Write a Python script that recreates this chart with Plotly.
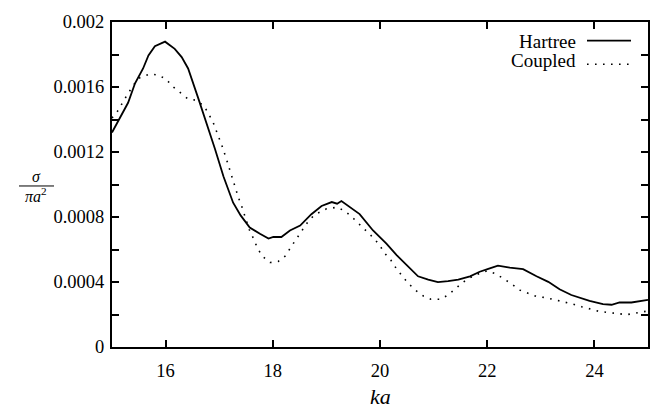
import plotly.graph_objects as go

# ---- data ----
hartree_x = [15.00, 15.21, 15.30, 15.43, 15.58, 15.68, 15.80, 15.99, 16.17, 16.30, 16.42, 16.61,
             16.77, 16.92, 17.08, 17.26, 17.40, 17.57, 17.76, 17.92, 18.01, 18.16, 18.32, 18.51,
             18.72, 18.91, 19.10, 19.20, 19.28, 19.41, 19.62, 19.87, 20.12, 20.31, 20.50, 20.71,
             20.90, 21.08, 21.27, 21.46, 21.68, 21.86, 22.02, 22.20, 22.42, 22.67, 22.92, 23.14,
             23.35, 23.57, 23.91, 24.16, 24.32, 24.47, 24.69, 24.91, 25.00]
hartree_y = [0.001320, 0.001452, 0.001503, 0.001623, 0.001714, 0.001794, 0.001851, 0.001879,
             0.001835, 0.001784, 0.001714, 0.001530, 0.001372, 0.001220, 0.001049, 0.000888,
             0.000810, 0.000735, 0.000697, 0.000667, 0.000677, 0.000677, 0.000717, 0.000747,
             0.000817, 0.000868, 0.000892, 0.000882, 0.000898, 0.000866, 0.000818, 0.000717,
             0.000636, 0.000566, 0.000501, 0.000435, 0.000415, 0.000399, 0.000405, 0.000415,
             0.000435, 0.000463, 0.000481, 0.000501, 0.000489, 0.000479, 0.000435, 0.000401,
             0.000355, 0.000320, 0.000284, 0.000264, 0.000260, 0.000274, 0.000274, 0.000288,
             0.000290]

coupled_x = [15.00, 15.12, 15.21, 15.30, 15.40, 15.52, 15.71, 15.86, 16.01, 16.13, 16.27, 16.41,
             16.58, 16.72, 16.88, 16.96, 17.06, 17.15, 17.26, 17.36, 17.42, 17.56, 17.64, 17.71,
             17.80, 17.95, 18.10, 18.24, 18.34, 18.44, 18.54, 18.64, 18.77, 19.00, 19.20, 19.34,
             19.47, 19.61, 19.74, 19.86, 19.98, 20.08, 20.20, 20.30, 20.41, 20.53, 20.66, 20.81,
             20.95, 21.13, 21.27, 21.41, 21.55, 21.75, 22.00, 22.16, 22.32, 22.47, 22.61, 22.76,
             22.93, 23.09, 23.26, 23.43, 23.60, 23.76, 23.93, 24.09, 24.25, 24.42, 24.60, 24.75,
             24.91, 25.00]
coupled_y = [0.001410, 0.001458, 0.001512, 0.001563, 0.001613, 0.001657, 0.001680, 0.001674,
             0.001648, 0.001603, 0.001563, 0.001529, 0.001517, 0.001482, 0.001388, 0.001321,
             0.001231, 0.001140, 0.001019, 0.000918, 0.000866, 0.000723, 0.000667, 0.000612,
             0.000560, 0.000520, 0.000526, 0.000562, 0.000616, 0.000667, 0.000717, 0.000763,
             0.000812, 0.000850, 0.000860, 0.000838, 0.000802, 0.000757, 0.000721, 0.000677,
             0.000633, 0.000580, 0.000536, 0.000485, 0.000439, 0.000391, 0.000350, 0.000314,
             0.000294, 0.000294, 0.000320, 0.000358, 0.000399, 0.000440, 0.000469, 0.000451,
             0.000419, 0.000385, 0.000350, 0.000330, 0.000310, 0.000304, 0.000292, 0.000280,
             0.000264, 0.000248, 0.000234, 0.000219, 0.000213, 0.000207, 0.000199, 0.000207,
             0.000219, 0.000222]

x_tickvals = [16, 18, 20, 22, 24]
x_ticktext = ["16", "18", "20", "22", "24"]
y_tickvals = [0, 0.0004, 0.0008, 0.0012, 0.0016, 0.002]
y_ticktext = ["0", "0.0004", "0.0008", "0.0012", "0.0016", "0.002"]
series_names = ["Hartree", "Coupled"]

# ---- layout geometry (pixels) ----
W, H = 664, 410
L, R, T, B = 112, 16, 16, 63
PW, PH = W - L - R, H - T - B
FONT = "Liberation Serif"
TICK_SIZE = 18.5
LEG_SIZE = 19


def px(xp):
    return (xp - L) / PW


def py(yp):
    return (H - B - yp) / PH


fig = go.Figure()
fig.add_trace(go.Scatter(x=hartree_x, y=hartree_y, mode="lines", name=series_names[0],
                         line=dict(color="black", width=1.8), showlegend=False))
fig.add_trace(go.Scatter(x=coupled_x, y=coupled_y, mode="lines", name=series_names[1],
                         line=dict(color="black", width=1.6, dash="1.6px,6.4px"), showlegend=False))

axis_common = dict(showline=True, linecolor="black", linewidth=2, mirror="ticks",
                   ticks="inside", ticklen=7, tickwidth=1.6, tickcolor="black",
                   showgrid=False, zeroline=False,
                   tickfont=dict(family=FONT, size=TICK_SIZE, color="black"))

fig.update_xaxes(range=[15, 25], tickvals=x_tickvals, ticktext=x_ticktext,
                 ticklabelstandoff=6, **axis_common)
fig.update_yaxes(range=[0, 0.002], tickvals=y_tickvals, ticktext=y_ticktext,
                 ticklabelstandoff=2,
                 minor=dict(dtick=0.0002, ticks="inside", ticklen=7, tickwidth=1.6, tickcolor="black"),
                 **axis_common)


def ann(text, xp, yp, size, xanchor="center"):
    return dict(text=text, x=px(xp), y=py(yp), xref="paper", yref="paper",
                xanchor=xanchor, yanchor="middle", showarrow=False,
                font=dict(family=FONT, size=size, color="black"))


annotations = [
    ann("<i>ka</i>", 380, 397, 22),
    ann("<i>σ</i>", 36, 173, 16),
    ann("<i>πa</i><sup>2</sup>", 36, 192, 16),
    ann(series_names[0], 578, 36, LEG_SIZE, "right"),
    ann(series_names[1], 578, 55, LEG_SIZE, "right"),
]

shapes = [
    dict(type="line", xref="paper", yref="paper", x0=px(19), x1=px(54), y0=py(183), y1=py(183),
         line=dict(color="black", width=1)),
    dict(type="line", xref="paper", yref="paper", x0=px(587), x1=px(631), y0=py(35), y1=py(35),
         line=dict(color="black", width=1.8)),
    dict(type="line", xref="paper", yref="paper", x0=px(587), x1=px(631), y0=py(59), y1=py(59),
         line=dict(color="black", width=1.6, dash="1.6px,6.4px")),
]

fig.update_layout(width=W, height=H, margin=dict(l=L, r=R, t=T, b=B, pad=0),
                  paper_bgcolor="white", plot_bgcolor="white",
                  annotations=annotations, shapes=shapes, showlegend=False,
                  font=dict(family=FONT, color="black"))

fig.write_html("out.html", config={"displayModeBar": False},
               post_script="document.body.style.margin='0';")
